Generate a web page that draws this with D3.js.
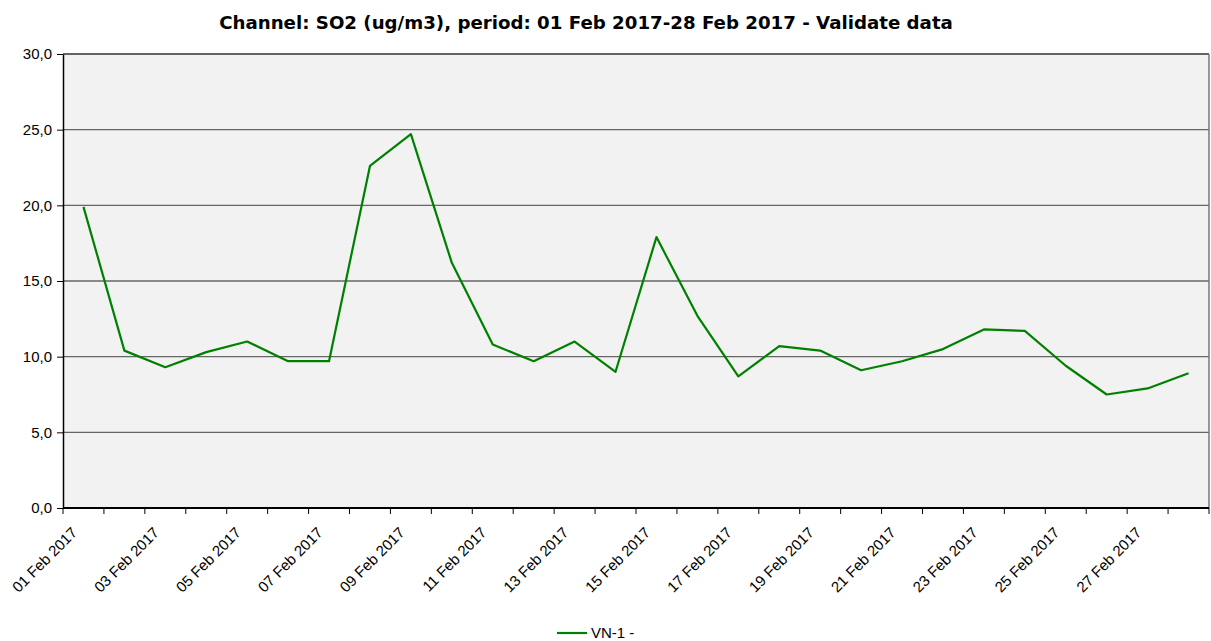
<!DOCTYPE html>
<html>
<head>
<meta charset="utf-8">
<script src="https://cdn.jsdelivr.net/npm/d3@7"></script>
<style>
  html, body { margin: 0; padding: 0; background: #fff; }
  #chart { width: 1211px; height: 641px; }
</style>
</head>
<body>
<div id="chart"></div>
<script>
// SO2 daily values, Feb 2017
const days = d3.range(1, 29).map(d => `${String(d).padStart(2, "0")} Feb 2017`);
const so2 = [19.9, 10.4, 9.3, 10.3, 11.0, 9.7, 9.7, 22.6, 24.7, 16.2,
             10.8, 9.7, 11.0, 9.0, 17.9, 12.7, 8.7, 10.7, 10.4, 9.1,
             9.7, 10.5, 11.8, 11.7, 9.4, 7.5, 7.9, 8.9];
const yTicks = [0, 5, 10, 15, 20, 25, 30];
const seriesName = "VN-1 -";
const title = "Channel: SO2 (ug/m3), period: 01 Feb 2017-28 Feb 2017 - Validate data";

(() => {
    const W = 1211, H = 641;
    const m = { left: 63, right: 2, top: 54, bottom: 133 };
    const svg = d3.select("#chart").append("svg").attr("width", W).attr("height", H)
        .style("font-family", "'Liberation Sans', Arial, sans-serif");

    const x = d3.scaleBand().domain(days).range([m.left, W - m.right]);
    const y = d3.scaleLinear().domain([0, 30]).range([H - m.bottom, m.top]);
    const fmt = v => d3.format(".1f")(v).replace(".", ",");

    // plot background
    svg.append("rect").attr("x", m.left).attr("y", m.top)
        .attr("width", W - m.left - m.right).attr("height", H - m.top - m.bottom)
        .attr("fill", "#f2f2f2");

    // gridlines
    svg.append("g").selectAll("line").data(yTicks.slice(1)).join("line")
        .attr("x1", m.left).attr("x2", W - m.right)
        .attr("y1", d => y(d)).attr("y2", d => y(d))
        .attr("stroke", d => d === 30 ? "#333" : "#666").attr("stroke-width", d => d === 30 ? 1.5 : 1.3);

    // right border
    svg.append("line").attr("x1", W - m.right).attr("x2", W - m.right)
        .attr("y1", m.top).attr("y2", H - m.bottom).attr("stroke", "#777").attr("stroke-width", 1.5);

    // y axis
    const ya = svg.append("g").attr("transform", `translate(${m.left},0)`)
        .call(d3.axisLeft(y).tickValues(yTicks).tickFormat(fmt).tickSize(6).tickSizeOuter(0));
    ya.attr("font-size", null).attr("font-family", null);
    ya.select(".domain").attr("stroke", "#000").attr("stroke-width", 1.5);
    ya.selectAll(".tick line").attr("stroke", "#000");
    ya.selectAll("text").style("font-size", "15px").attr("fill", "#000").attr("x", -11);

    // x axis: ticks between categories
    const xa = svg.append("g").attr("transform", `translate(0,${H - m.bottom})`);
    xa.append("line").attr("x1", m.left).attr("x2", W - m.right).attr("stroke", "#000").attr("stroke-width", 2);
    xa.selectAll(".tk").data(days).join("line").attr("class", "tk")
        .attr("x1", d => x(d)).attr("x2", d => x(d)).attr("y1", 0).attr("y2", 6)
        .attr("stroke", "#000");
    xa.append("line").attr("x1", W - m.right).attr("x2", W - m.right).attr("y1", 0).attr("y2", 6).attr("stroke", "#000");
    xa.selectAll("text").data(days.filter((d, i) => i % 2 === 0)).join("text")
        .attr("transform", d => `translate(${x(d) + x.bandwidth() / 2 - 9},${22}) rotate(-45)`)
        .attr("text-anchor", "end").attr("dy", "0.35em")
        .style("font-size", "15px").attr("fill", "#000").text(d => d);

    // series
    const line = d3.line().x((d, i) => x(days[i]) + x.bandwidth() / 2).y(d => y(d));
    svg.append("path").datum(so2).attr("d", line)
        .attr("fill", "none").attr("stroke", "#008000").attr("stroke-width", 2.2)
        .attr("stroke-linejoin", "round");

    // title
    svg.append("text").attr("x", 586).attr("y", 29).attr("text-anchor", "middle")
        .style("font-family", "'DejaVu Sans', Verdana, sans-serif")
        .attr("font-weight", "bold").style("font-size", "18.2px").text(title);

    // legend
    const lg = svg.append("g").attr("transform", "translate(557,633)");
    lg.append("line").attr("x1", 0).attr("x2", 30).attr("stroke", "#008000").attr("stroke-width", 2.2);
    lg.append("text").attr("x", 34).attr("dy", "0.35em").style("font-size", "15px").text(seriesName);
})();
</script>
</body>
</html>
